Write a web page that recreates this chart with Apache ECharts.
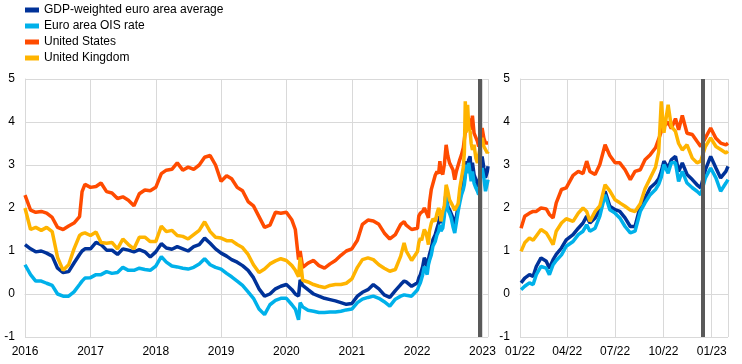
<!DOCTYPE html>
<html>
<head>
<meta charset="utf-8">
<script src="https://cdn.jsdelivr.net/npm/echarts@6/dist/echarts.min.js"></script>
<style>
html,body{margin:0;padding:0;background:#fff;}
#chart{width:742px;height:364px;}
</style>
</head>
<body>
<div id="chart"></div>
<script>
// ---- data ----
const dates = [
"2016-01-01","2016-02-01","2016-03-01","2016-04-01","2016-05-01","2016-06-01","2016-07-01","2016-08-01","2016-09-01","2016-10-01","2016-11-01","2016-11-15","2016-12-01",
"2017-01-01","2017-02-01","2017-03-01","2017-04-01","2017-05-01","2017-06-01","2017-07-01","2017-08-01","2017-09-01","2017-10-01","2017-11-01","2017-12-01",
"2018-01-01","2018-02-01","2018-03-01","2018-04-01","2018-05-01","2018-06-01","2018-07-01","2018-08-01","2018-09-01","2018-10-01","2018-11-01","2018-12-01",
"2019-01-01","2019-02-01","2019-03-01","2019-04-01","2019-05-01","2019-06-01","2019-07-01","2019-08-01","2019-09-01","2019-10-01","2019-11-01","2019-12-01",
"2020-01-01","2020-02-01","2020-02-20","2020-03-09","2020-03-18","2020-04-01","2020-05-01","2020-06-01","2020-07-01","2020-08-01","2020-09-01","2020-10-01","2020-11-01","2020-12-01",
"2021-01-01","2021-02-01","2021-03-01","2021-04-01","2021-05-01","2021-06-01","2021-07-01","2021-08-01","2021-09-01","2021-10-01","2021-10-20","2021-11-01","2021-12-01",
"2022-01-03","2022-01-10","2022-01-19","2022-01-26","2022-02-01","2022-02-10","2022-02-20","2022-02-26","2022-03-05","2022-03-11","2022-03-21","2022-03-30",
"2022-04-12","2022-04-22","2022-05-01","2022-05-08","2022-05-14","2022-05-24","2022-06-02","2022-06-12","2022-06-21","2022-07-01","2022-07-10","2022-07-20",
"2022-07-30","2022-08-08","2022-08-18","2022-08-27","2022-09-06","2022-09-16","2022-09-22","2022-09-27","2022-10-02","2022-10-10","2022-10-16","2022-10-24",
"2022-10-30","2022-11-06","2022-11-15","2022-11-25","2022-12-04","2022-12-11","2022-12-20","2022-12-30","2023-01-09","2023-01-18","2023-01-28","2023-02-01"
];
const gdpWeighted = [
1.15,1.05,0.98,1.00,0.95,0.88,0.60,0.50,0.52,0.72,0.92,1.00,1.05,
1.05,1.20,1.15,1.02,1.02,0.92,1.05,1.02,0.98,1.03,0.98,0.86,
0.98,1.17,1.07,1.04,1.10,1.05,1.00,1.10,1.15,1.30,1.18,1.05,
0.95,0.88,0.80,0.74,0.66,0.55,0.38,0.12,-0.05,0.00,0.12,0.18,
0.22,0.10,0.00,-0.05,0.33,0.20,0.10,0.00,-0.05,-0.10,-0.13,-0.16,-0.20,-0.24,
-0.22,-0.05,0.04,0.10,0.22,0.12,-0.02,-0.08,0.08,0.22,0.30,0.28,0.18,
0.26,0.37,0.45,0.41,0.64,0.84,0.76,0.60,0.80,0.92,1.07,1.26,
1.38,1.53,1.65,1.81,1.65,1.77,1.96,2.39,2.04,1.96,1.92,1.77,
1.57,1.57,2.04,2.23,2.47,2.58,2.68,2.85,3.09,2.93,3.12,3.20,
2.85,3.05,2.78,2.66,2.54,2.47,2.89,3.20,2.93,2.70,2.85,2.97
];
const oisRate = [
0.68,0.45,0.30,0.30,0.25,0.20,0.00,-0.05,-0.05,0.05,0.22,0.30,0.37,
0.38,0.45,0.45,0.52,0.48,0.50,0.62,0.55,0.55,0.60,0.57,0.55,
0.65,0.87,0.74,0.65,0.63,0.60,0.58,0.62,0.70,0.82,0.68,0.62,
0.58,0.48,0.40,0.30,0.20,0.05,-0.10,-0.35,-0.48,-0.25,-0.15,-0.10,
-0.10,-0.25,-0.35,-0.60,-0.20,-0.30,-0.38,-0.40,-0.43,-0.43,-0.42,-0.42,-0.40,-0.37,
-0.35,-0.20,-0.12,-0.08,-0.05,-0.10,-0.18,-0.28,-0.12,-0.05,-0.02,-0.03,-0.05,
0.10,0.18,0.26,0.22,0.45,0.64,0.60,0.45,0.68,0.78,0.91,1.11,
1.22,1.38,1.46,1.61,1.46,1.53,1.81,2.31,1.96,1.88,1.77,1.57,
1.42,1.46,1.92,2.12,2.31,2.43,2.55,2.72,3.01,2.81,3.05,3.05,
2.62,2.85,2.58,2.47,2.39,2.31,2.70,2.93,2.70,2.39,2.58,2.66
];
const unitedStates = [
2.30,1.95,1.90,1.92,1.88,1.78,1.55,1.50,1.58,1.65,1.80,2.38,2.55,
2.48,2.50,2.58,2.38,2.35,2.22,2.26,2.18,2.05,2.33,2.42,2.40,
2.48,2.80,2.88,2.90,3.05,2.88,2.95,2.90,3.00,3.18,3.22,3.00,
2.62,2.75,2.68,2.48,2.40,2.15,2.05,1.80,1.55,1.60,1.90,1.88,
1.90,1.72,1.50,0.80,1.00,0.62,0.72,0.78,0.66,0.60,0.70,0.78,0.90,1.00,
1.05,1.25,1.62,1.72,1.70,1.62,1.42,1.28,1.38,1.62,1.68,1.60,1.50,
1.53,1.81,1.88,1.92,1.92,2.00,1.98,1.85,1.77,2.12,2.43,2.47,
2.76,2.85,2.80,3.09,2.85,2.78,3.01,3.47,3.22,3.05,3.05,2.89,
2.66,2.85,2.89,3.12,3.24,3.40,3.60,3.78,3.90,4.00,3.85,4.08,
3.82,4.15,3.74,3.71,3.55,3.43,3.63,3.86,3.62,3.51,3.47,3.51
];
const unitedKingdom = [
2.00,1.50,1.55,1.48,1.55,1.45,0.85,0.55,0.68,1.05,1.36,1.40,1.42,
1.36,1.44,1.20,1.18,1.20,1.05,1.28,1.15,1.05,1.32,1.32,1.22,
1.22,1.58,1.45,1.48,1.36,1.34,1.28,1.38,1.48,1.68,1.45,1.32,
1.30,1.24,1.24,1.15,1.08,0.92,0.68,0.50,0.58,0.70,0.77,0.82,
0.78,0.66,0.55,0.40,0.85,0.32,0.28,0.22,0.18,0.15,0.20,0.22,0.22,0.25,
0.35,0.62,0.80,0.84,0.80,0.68,0.60,0.53,0.57,0.88,1.19,1.00,0.78,
0.99,1.19,1.30,1.25,1.35,1.50,1.42,1.30,1.15,1.46,1.65,1.75,
1.69,1.88,2.00,1.92,1.69,1.92,2.05,2.54,2.40,2.19,2.12,2.04,
1.95,1.92,2.10,2.45,2.70,2.95,3.30,4.48,3.75,4.40,3.90,3.78,
3.50,3.35,3.47,3.16,3.05,3.09,3.43,3.63,3.43,3.36,3.28,3.32
];
const seriesNames = ["GDP-weighted euro area average","Euro area OIS rate","United States","United Kingdom"];
const seriesColors = ["#003299","#00B1EA","#FF4B00","#FFB400"];
const yTicks = [-1,0,1,2,3,4,5];
const markerDate = "2022-12-15";
const leftRange = ["2016-01-01","2023-02-01"];
const rightRange = ["2022-01-01","2023-02-01"];

// ---- chart ----
const FONT = "Arial, 'Liberation Sans', sans-serif";
const gridColor = "#d9d9d9";
const allValues = [gdpWeighted, oisRate, unitedStates, unitedKingdom];
function pairs(vals, from) {
  const out = [];
  for (let i = 0; i < dates.length; i++) {
    if (from && dates[i] < from) continue;
    out.push([dates[i], vals[i]]);
  }
  return out;
}
function yAxis(gi) {
  return {
    type: "value", gridIndex: gi, min: yTicks[0], max: yTicks[yTicks.length-1], interval: 1,
    axisLine: {show: true, lineStyle: {color: gridColor, width: 1}},
    axisTick: {show: false},
    splitLine: {show: true, lineStyle: {color: gridColor, width: 1}},
    axisLabel: {color: "#000", fontSize: 12, fontFamily: FONT, margin: 10}
  };
}
const pad2 = n => (n < 10 ? "0" : "") + n;
const xAxes = [
  {
    type: "time", gridIndex: 0, min: leftRange[0], max: leftRange[1],
    splitNumber: 7, minInterval: 365*864e5,
    axisLine: {show: true, lineStyle: {color: gridColor}},
    axisTick: {show: false},
    splitLine: {show: true, lineStyle: {color: gridColor, width: 1}},
    axisLabel: {color: "#000", fontSize: 12, fontFamily: FONT, margin: 9,
      formatter: v => String(new Date(v).getFullYear())}
  },
  {
    type: "time", gridIndex: 1, min: rightRange[0], max: rightRange[1],
    splitNumber: 4, minInterval: 89*864e5, maxInterval: 92*864e5,
    axisLine: {show: true, lineStyle: {color: gridColor}},
    axisTick: {show: false},
    splitLine: {show: true, lineStyle: {color: gridColor, width: 1}},
    axisLabel: {color: "#000", fontSize: 12, fontFamily: FONT, margin: 9,
      formatter: v => { const d = new Date(v); return pad2(d.getMonth()+1) + "/" + pad2(d.getFullYear() % 100); }}
  }
];
const series = [];
[0,1].forEach(gi => {
  allValues.forEach((vals, k) => {
    const s = {
      name: seriesNames[k], type: "line", xAxisIndex: gi, yAxisIndex: gi,
      data: pairs(vals, gi === 1 ? rightRange[0] : null),
      showSymbol: false, symbol: "none", clip: true,
      lineStyle: {color: seriesColors[k], width: 3.5},
      itemStyle: {color: seriesColors[k]},
      z: 2 + k
    };
    if (k === 3) {
      s.markLine = {
        silent: true, symbol: "none", label: {show: false},
        lineStyle: {color: "#595959", width: 4, type: "solid"},
        data: [{xAxis: markerDate}], z: 10
      };
    }
    series.push(s);
  });
});
const chart = echarts.init(document.getElementById("chart"), null, {renderer: "canvas"});
chart.setOption({
  animation: false,
  backgroundColor: "#fff",
  textStyle: {fontFamily: FONT},
  legend: {
    data: seriesNames, orient: "vertical", left: 25, top: 3, padding: 0,
    icon: "rect", itemWidth: 14, itemHeight: 5, itemGap: 2,
    textStyle: {color: "#000", fontSize: 12, fontFamily: FONT, lineHeight: 14}
  },
  grid: [
    {left: 25, top: 79, width: 463, height: 258, containLabel: false},
    {left: 520, top: 79, width: 208, height: 258, containLabel: false}
  ],
  xAxis: xAxes,
  yAxis: [yAxis(0), yAxis(1)],
  series: series
});
</script>
</body>
</html>
